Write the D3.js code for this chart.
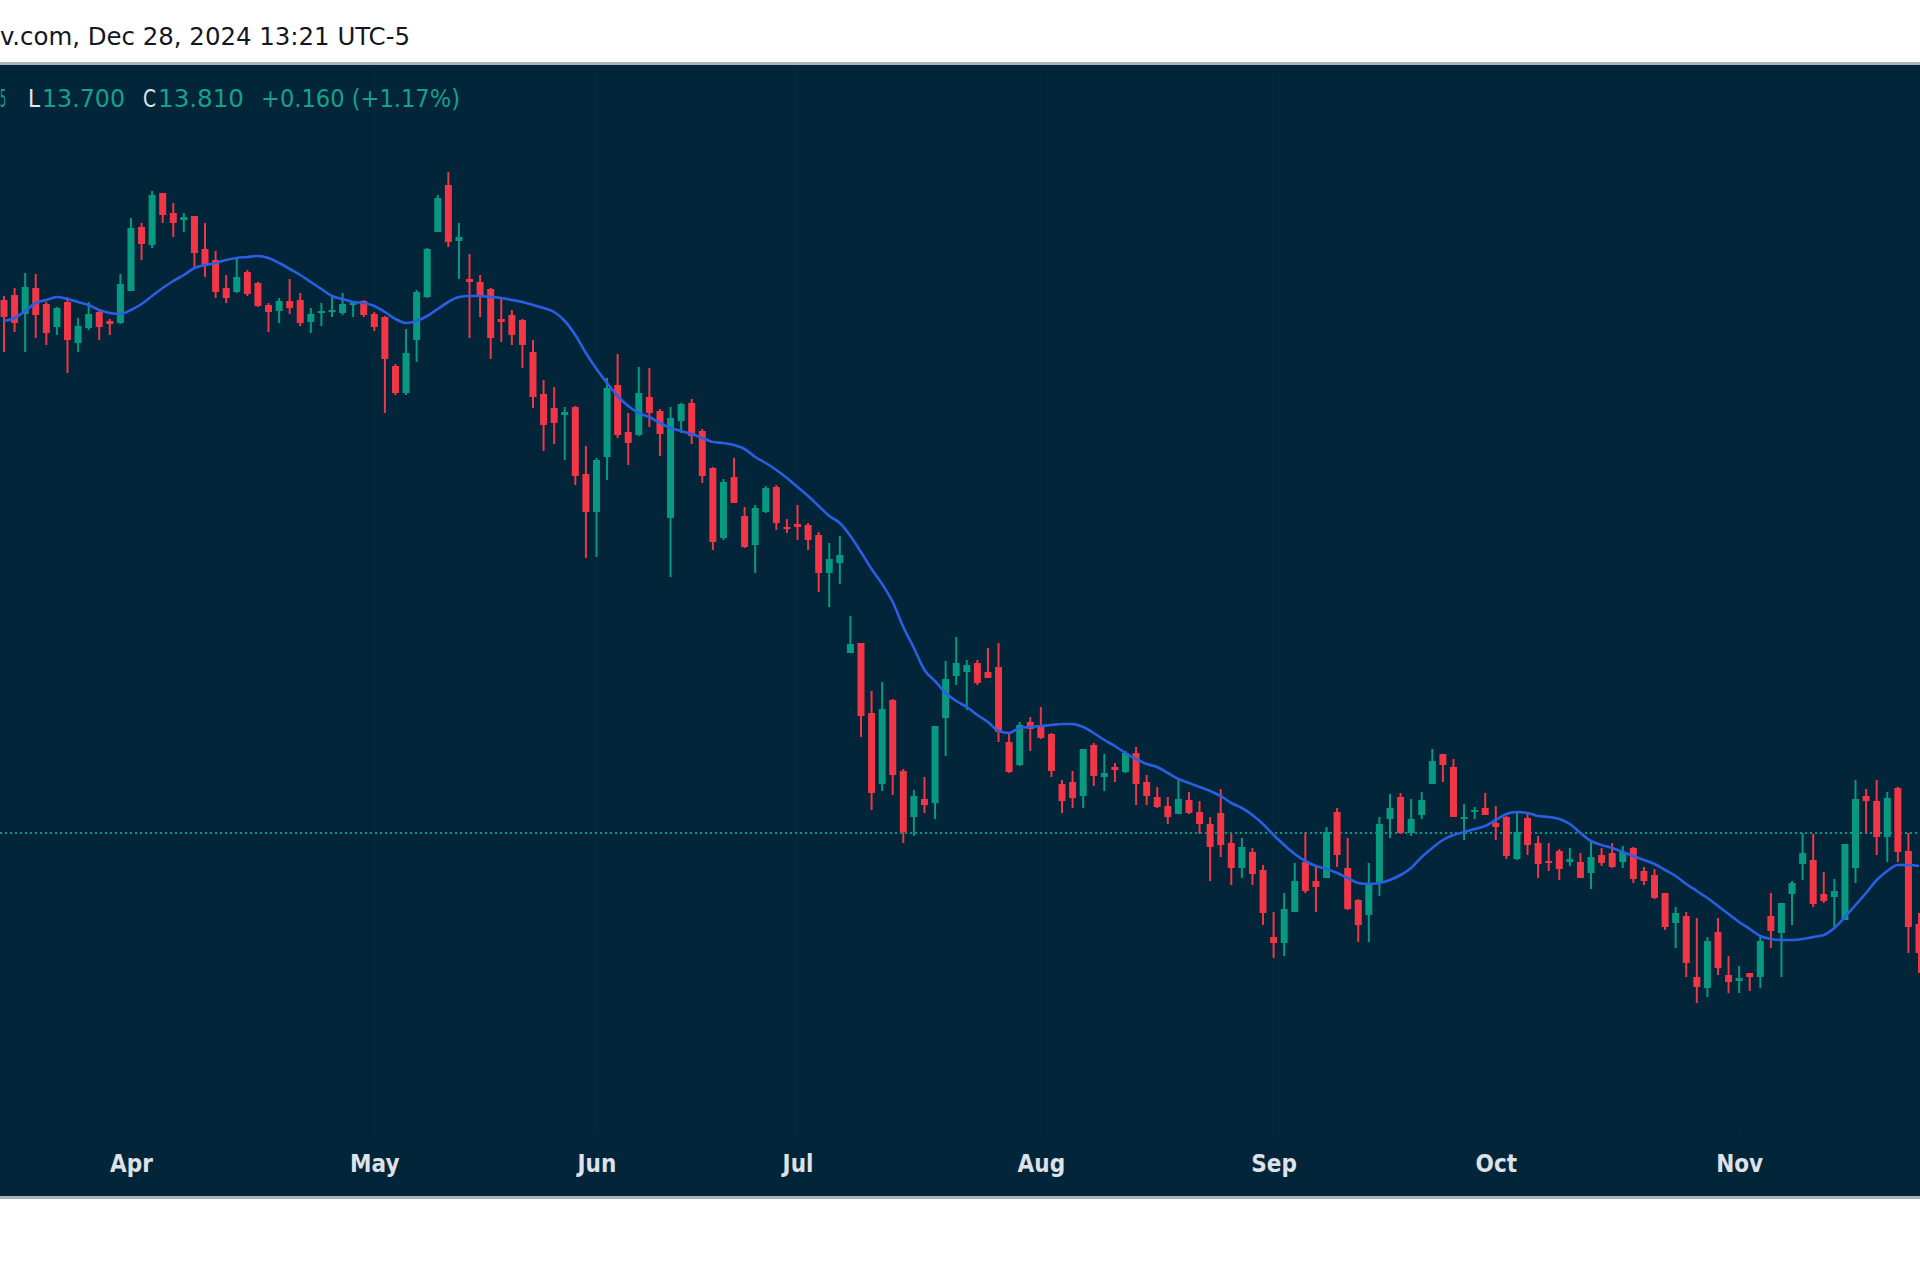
<!DOCTYPE html>
<html><head><meta charset="utf-8">
<script src="https://cdn.jsdelivr.net/npm/d3@7"></script>
<style>html,body{margin:0;padding:0;background:#fff;overflow:hidden}
text{font-stretch:condensed}</style>
</head><body><svg id="c" width="1920" height="1280"></svg>
<script>
const opens=[19.14,19.19,19.00,19.26,19.10,18.87,19.12,18.71,18.86,19.02,
18.93,18.91,19.23,19.87,19.69,20.21,20.01,19.94,19.98,19.65,
19.54,19.26,19.22,19.42,19.31,19.09,19.03,19.13,19.14,18.92,
19.01,19.02,19.01,19.09,19.13,19.00,18.97,18.48,18.21,18.74,
19.17,19.82,20.29,19.73,19.35,19.32,19.25,18.95,18.99,18.94,
18.62,18.20,18.06,17.99,18.07,17.40,17.02,17.57,18.29,17.82,
17.79,18.17,18.03,16.96,17.93,18.11,17.83,17.46,16.76,17.37,
16.98,16.69,17.02,17.27,16.87,16.90,16.89,16.79,16.41,16.51,
15.61,15.71,15.01,14.30,15.14,14.43,13.97,14.15,14.11,14.96,
15.38,15.42,15.51,15.42,15.47,14.72,14.49,14.92,14.87,14.80,
14.30,14.32,14.18,14.69,14.37,14.47,14.42,14.61,14.32,14.17,
14.08,14.00,14.14,14.02,13.90,14.01,13.71,13.46,13.62,13.44,
12.77,12.71,13.02,13.52,13.33,13.36,14.02,13.46,13.14,12.99,
13.32,13.95,14.17,13.81,13.99,14.30,14.60,14.47,13.95,14.02,
14.06,13.91,13.97,13.55,13.96,13.71,13.53,13.63,13.52,13.52,
13.41,13.59,13.61,13.52,13.66,13.43,13.39,13.21,12.91,12.98,
12.37,12.26,12.82,12.39,12.33,12.41,12.37,12.98,12.81,13.20,
13.50,13.54,13.20,13.17,12.94,13.46,14.18,14.13,13.77,14.26,
13.63,12.90];
const highs=[19.18,19.26,19.41,19.40,19.12,19.07,19.17,18.96,19.12,19.05,
18.95,19.40,19.96,19.91,20.23,20.21,20.11,20.01,19.98,19.91,
19.63,19.39,19.55,19.44,19.32,19.11,19.16,19.35,19.21,19.06,
19.11,19.18,19.21,19.13,19.14,19.02,18.98,18.50,18.85,19.24,
19.66,20.19,20.42,19.91,19.60,19.39,19.26,19.17,19.04,18.95,
18.74,18.34,18.27,18.07,18.08,17.68,17.56,18.36,18.60,18.01,
18.47,18.46,18.05,18.07,18.11,18.15,17.85,17.47,17.35,17.56,
17.07,17.09,17.28,17.29,16.95,17.09,16.91,16.82,16.71,16.78,
15.98,15.71,15.23,15.32,15.15,14.45,14.24,14.37,14.88,15.53,
15.77,15.54,15.54,15.66,15.71,14.80,14.92,14.97,15.07,14.81,
14.34,14.43,14.65,14.71,14.60,14.51,14.63,14.67,14.39,14.27,
14.17,14.36,14.22,14.13,13.97,14.25,13.80,13.76,13.66,13.49,
13.02,13.21,13.51,13.82,13.48,13.87,14.06,13.76,13.15,13.51,
13.97,14.20,14.21,14.15,14.22,14.65,14.60,14.55,14.10,14.07,
14.21,14.08,13.98,14.01,14.01,13.78,13.71,13.65,13.66,13.61,
13.72,13.66,13.71,13.68,13.67,13.47,13.45,13.21,13.07,13.02,
12.96,12.77,12.96,12.58,12.48,12.41,12.77,13.21,13.11,13.33,
13.81,13.80,13.42,13.35,13.70,14.34,14.25,14.34,14.22,14.27,
13.81,13.01];
const lows=[18.62,18.82,18.62,18.76,18.69,18.79,18.41,18.62,18.84,18.74,
18.79,18.90,19.23,19.54,19.66,19.91,19.77,19.82,19.47,19.37,
19.16,19.11,19.21,19.18,19.07,18.82,18.91,19.00,18.88,18.81,
18.88,18.97,18.99,18.97,18.97,18.83,18.01,18.19,18.19,18.52,
19.16,19.82,19.67,19.35,18.76,18.97,18.55,18.72,18.69,18.46,
18.06,17.63,17.70,17.54,17.29,16.56,16.57,17.34,17.76,17.49,
17.78,17.87,17.58,16.37,17.81,17.70,17.31,16.64,16.74,17.11,
16.66,16.41,17.01,16.84,16.81,16.74,16.64,16.22,16.07,16.30,
15.61,14.77,14.04,14.23,14.19,13.71,13.78,14.01,13.95,14.58,
15.29,15.04,15.29,15.36,14.72,14.41,14.48,14.63,14.75,14.37,
14.01,14.06,14.06,14.28,14.23,14.32,14.41,14.09,14.09,14.06,
13.90,14.00,14.00,13.80,13.33,13.57,13.29,13.36,13.29,12.89,
12.56,12.58,13.02,13.21,13.02,13.36,13.47,13.04,12.72,12.72,
13.18,13.76,13.80,13.78,13.95,14.30,14.32,13.97,13.74,13.95,
13.99,13.74,13.55,13.54,13.59,13.36,13.43,13.34,13.48,13.36,
13.25,13.48,13.46,13.46,13.31,13.29,13.15,12.84,12.66,12.37,
12.11,12.17,12.39,12.21,12.21,12.23,12.26,12.66,12.37,12.89,
13.34,13.07,13.11,12.87,12.94,13.31,13.81,13.59,13.52,13.52,
12.61,12.41];
const closes=[18.97,18.91,19.27,18.99,18.81,19.06,18.74,18.88,19.00,18.87,
18.90,19.30,19.86,19.70,20.19,19.99,19.91,19.97,19.61,19.48,
19.22,19.16,19.37,19.20,19.08,19.02,19.13,19.06,18.91,19.00,
19.03,19.04,19.10,19.11,18.99,18.87,18.55,18.21,18.61,19.22,
19.65,20.16,19.72,19.77,19.32,19.19,18.76,18.92,18.79,18.69,
18.17,17.89,17.91,18.02,17.38,17.02,17.54,18.26,17.79,17.71,
18.21,18.01,17.80,17.96,18.10,17.78,17.38,16.72,17.32,17.11,
16.67,17.06,17.26,16.91,16.86,16.87,16.74,16.41,16.55,16.59,
15.70,14.98,14.21,15.05,14.39,13.82,14.18,14.09,14.88,15.35,
15.51,15.49,15.31,15.36,14.82,14.42,14.89,14.85,14.76,14.43,
14.13,14.16,14.65,14.38,14.41,14.44,14.61,14.30,14.18,14.07,
13.97,14.15,14.01,13.90,13.67,13.69,13.46,13.67,13.40,13.01,
12.71,13.05,13.33,13.23,13.27,13.82,13.59,13.05,12.89,13.30,
13.90,14.06,13.81,13.95,14.14,14.53,14.49,13.97,13.97,14.04,
13.99,13.87,13.58,13.82,13.69,13.50,13.51,13.45,13.55,13.36,
13.57,13.51,13.47,13.62,13.35,13.33,13.16,12.87,13.01,12.51,
12.27,12.73,12.46,12.32,12.36,12.37,12.73,12.83,13.11,13.31,
13.61,13.10,13.13,13.23,13.70,14.15,14.13,13.77,14.16,13.62,
12.87,12.61];
const ma20=[18.93,18.96,19.03,19.11,19.14,19.17,19.15,19.12,19.09,19.04,
19.01,19.00,19.04,19.10,19.18,19.26,19.33,19.39,19.46,19.49,
19.51,19.54,19.56,19.57,19.58,19.56,19.51,19.45,19.39,19.32,
19.25,19.18,19.15,19.12,19.11,19.08,19.02,18.95,18.91,18.93,
18.98,19.05,19.12,19.17,19.18,19.18,19.17,19.16,19.14,19.12,
19.09,19.06,19.02,18.93,18.79,18.61,18.45,18.31,18.18,18.08,
18.01,17.97,17.91,17.86,17.83,17.80,17.76,17.72,17.71,17.69,
17.65,17.57,17.51,17.44,17.36,17.27,17.18,17.08,16.98,16.91,
16.78,16.62,16.45,16.30,16.12,15.87,15.66,15.44,15.33,15.21,
15.13,15.07,14.99,14.92,14.83,14.81,14.86,14.87,14.88,14.89,
14.90,14.90,14.87,14.81,14.74,14.68,14.61,14.55,14.50,14.47,
14.41,14.35,14.31,14.27,14.23,14.18,14.11,14.06,13.99,13.90,
13.79,13.69,13.60,13.53,13.48,13.45,13.41,13.36,13.31,13.30,
13.31,13.34,13.39,13.46,13.57,13.66,13.74,13.79,13.82,13.85,
13.88,13.94,14.00,14.02,14.01,13.98,13.97,13.95,13.90,13.81,
13.73,13.69,13.66,13.62,13.58,13.54,13.50,13.44,13.38,13.30,
13.23,13.16,13.08,13.00,12.92,12.85,12.78,12.75,12.74,12.74,
12.75,12.77,12.79,12.86,12.97,13.09,13.21,13.34,13.43,13.49,
13.49,13.48];
const monthLabels=["Apr","May","Jun","Jul","Aug","Sep","Oct","Nov"];
const monthBarIndex=[12,35,56,75,98,120,141,164];
const lastClose=13.81;
const headerText="v.com, Dec 28, 2024 13:21 UTC-5";
const legendParts=[
  {t:"5",c:"val"},{t:"L",c:"key"},{t:"13.700",c:"val"},{t:"C",c:"key"},{t:"13.810",c:"val"},{t:"+0.160 (+1.17%)",c:"val"}
];

const W=1920,H=1280;
const BG="#022539", UP="#089981", DOWN="#f23645";
const svg=d3.select("#c");
const font="'DejaVu Sans', 'Liberation Sans', sans-serif";

svg.append("rect").attr("width",W).attr("height",H).attr("fill","#ffffff");
// header
svg.append("text").attr("x",0).attr("y",45).attr("font-family",font).attr("font-size",25)
  .attr("fill","#131722").attr("textLength",410).attr("lengthAdjust","spacingAndGlyphs").text(headerText);
// panel
const panelTop=65, panelBot=1196;
svg.append("rect").attr("x",0).attr("y",62).attr("width",W).attr("height",3).attr("fill","#aab4be");
svg.append("rect").attr("x",0).attr("y",panelTop).attr("width",W).attr("height",panelBot-panelTop).attr("fill",BG);
svg.append("rect").attr("x",0).attr("y",panelBot).attr("width",W).attr("height",3).attr("fill","#aab4be");

const n=opens.length;
const x=d3.scaleLinear().domain([0,n-1]).range([4,1919]);
const y=d3.scaleLinear().domain([12,20]).range([1014,214]);

// faint vertical grid
svg.append("g").selectAll("line").data(monthBarIndex).join("line")
  .attr("x1",d=>x(d)).attr("x2",d=>x(d)).attr("y1",panelTop).attr("y2",1135)
  .attr("stroke","#ffffff").attr("stroke-opacity",0.025).attr("stroke-width",1);

// price line
svg.append("line").attr("x1",0).attr("x2",W).attr("y1",y(lastClose)).attr("y2",y(lastClose))
  .attr("stroke",UP).attr("stroke-width",2).attr("stroke-dasharray","2,3");

const data=d3.range(n).map(i=>({i,o:opens[i],h:highs[i],l:lows[i],c:closes[i]}));
const g=svg.append("g");
g.selectAll("line.w").data(data).join("line").attr("class","w")
  .attr("x1",d=>x(d.i)).attr("x2",d=>x(d.i)).attr("y1",d=>y(d.h)).attr("y2",d=>y(d.l))
  .attr("stroke",d=>d.c>=d.o?UP:DOWN).attr("stroke-width",2);
const bw=7;
g.selectAll("rect.b").data(data).join("rect").attr("class","b")
  .attr("x",d=>x(d.i)-bw/2).attr("width",bw)
  .attr("y",d=>y(Math.max(d.o,d.c)))
  .attr("height",d=>Math.max(2,Math.abs(y(d.o)-y(d.c))))
  .attr("fill",d=>d.c>=d.o?UP:DOWN);

// MA line
svg.append("path").datum(ma20.map((v,i)=>[i,v]))
  .attr("d",d3.line().x(d=>x(d[0])).y(d=>y(d[1])).curve(d3.curveMonotoneX))
  .attr("fill","none").attr("stroke","#2b5fe3").attr("stroke-width",2.6);

// legend
const legX=[0,28,42,143,158,261], legLen=[6,12,83,13,86,199];
const lg=svg.append("g");
legendParts.forEach((p,k)=>{
  lg.append("text").attr("x",legX[k]).attr("y",107).attr("font-family",font).attr("font-size",25)
    .attr("fill",p.c==="key"?"#e3e6ec":"#17a08b")
    .attr("textLength",legLen[k]).attr("lengthAdjust","spacingAndGlyphs").text(p.t);
});

// x axis
const axis=d3.axisBottom(x).tickValues(monthBarIndex).tickFormat((d,k)=>monthLabels[k]).tickSize(0).tickPadding(0);
const ax=svg.append("g").attr("transform","translate(0,1155)").call(axis);
ax.select(".domain").remove();
ax.selectAll("text").attr("font-family",font).attr("font-size",24).attr("font-weight","bold")
  .attr("fill","#dde1e8").attr("dy","0.71em");
</script></body></html>
